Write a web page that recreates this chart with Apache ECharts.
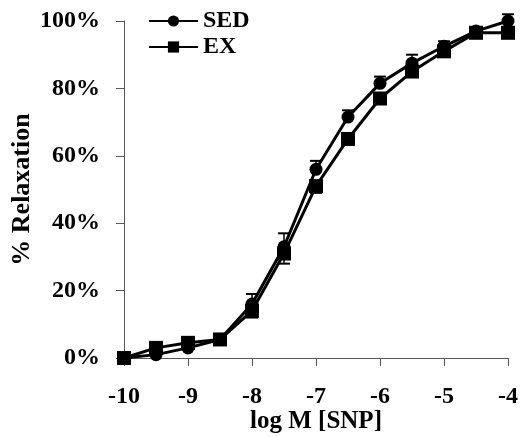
<!DOCTYPE html>
<html><head><meta charset="utf-8">
<script src="https://cdn.jsdelivr.net/npm/echarts@6/dist/echarts.min.js"></script>
<style>html,body{margin:0;padding:0;background:#fff}#c{width:520px;height:437px}</style>
</head><body><div id="c"></div>
<script>
const logM = [-10, -9.5, -9, -8.5, -8, -7.5, -7, -6.5, -6, -5.5, -5, -4.5, -4];
const sed = [0, 1, 3, 5.5, 16, 33, 56, 71.5, 81.5, 87.5, 92.5, 97, 100];
const sedErr = [0, 1, 1.5, 1, 3, 4, 2.5, 2, 2, 2.5, 1.5, 1, 2];
const ex = [0, 3, 4.5, 5.5, 14, 31, 51, 65, 77, 85, 91, 96.5, 96.5];
const exErr = [0, 1, 1, 1, 2, 3, 2, 1.5, 1.5, 1.5, 1.5, 1.5, 1.5];
const yTicks = [0, 20, 40, 60, 80, 100];

const font = '"Liberation Serif", "Times New Roman", serif';
const chart = echarts.init(document.getElementById('c'));

function errSeries(vals, errs, dir) {
  return {
    type: 'custom', silent: true, z: 1,
    data: logM.map((x, i) => [x, vals[i], vals[i] + dir * errs[i]]),
    renderItem: function (params, api) {
      const p0 = api.coord([api.value(0), api.value(1)]);
      const p1 = api.coord([api.value(0), api.value(2)]);
      if (Math.abs(p1[1] - p0[1]) < 0.5) return null;
      const w = 6;
      return {
        type: 'group', children: [
          { type: 'line', shape: { x1: p0[0], y1: p0[1], x2: p1[0], y2: p1[1] }, style: { stroke: '#000', lineWidth: 1.5 } },
          { type: 'line', shape: { x1: p1[0] - w, y1: p1[1], x2: p1[0] + w, y2: p1[1] }, style: { stroke: '#000', lineWidth: 2 } }
        ]
      };
    }
  };
}

chart.setOption({
  animation: false,
  grid: { left: 124, right: 12, top: 21, bottom: 79, containLabel: false, outerBoundsMode: 'none' },
  legend: {
    left: 143, top: 4, orient: 'vertical', itemGap: 2,
    itemWidth: 49, itemHeight: 14,
    data: ['SED', 'EX'],
    textStyle: { fontFamily: font, fontWeight: 'bold', fontSize: 24, color: '#000' }
  },
  xAxis: {
    type: 'value', min: -10, max: -4, interval: 1,
    name: 'log M [SNP]', nameLocation: 'middle', nameGap: 51, nameMoveOverlap: false,
    nameTextStyle: { fontFamily: font, fontWeight: 'bold', fontSize: 25, color: '#000' },
    axisLine: { lineStyle: { color: '#555', width: 1 } },
    axisTick: { show: true, length: 8, lineStyle: { color: '#555' } },
    axisLabel: { margin: 27, fontFamily: font, fontWeight: 'bold', fontSize: 24, color: '#000' },
    splitLine: { show: false }
  },
  yAxis: {
    type: 'value', min: yTicks[0], max: yTicks[yTicks.length - 1], interval: 20,
    name: '% Relaxation', nameLocation: 'middle', nameGap: 89, nameRotate: 90, nameMoveOverlap: false,
    nameTextStyle: { fontFamily: font, fontWeight: 'bold', fontSize: 26, color: '#000' },
    axisLine: { show: true, lineStyle: { color: '#555', width: 1 } },
    axisTick: { show: true, length: 8, lineStyle: { color: '#555' } },
    axisLabel: { margin: 24, formatter: '{value}%', fontFamily: font, fontWeight: 'bold', fontSize: 24, color: '#000' },
    splitLine: { show: false }
  },
  series: [
    errSeries(sed, sedErr, 1),
    errSeries(ex, exErr, -1),
    {
      name: 'SED', type: 'line', z: 3,
      data: logM.map((x, i) => [x, sed[i]]),
      symbol: 'circle', symbolSize: 13,
      lineStyle: { color: '#000', width: 3 },
      itemStyle: { color: '#000' }
    },
    {
      name: 'EX', type: 'line', z: 4,
      data: logM.map((x, i) => [x, ex[i]]),
      symbol: 'rect', symbolSize: 14,
      lineStyle: { color: '#000', width: 3 },
      itemStyle: { color: '#000' }
    }
  ]
});
</script></body></html>
